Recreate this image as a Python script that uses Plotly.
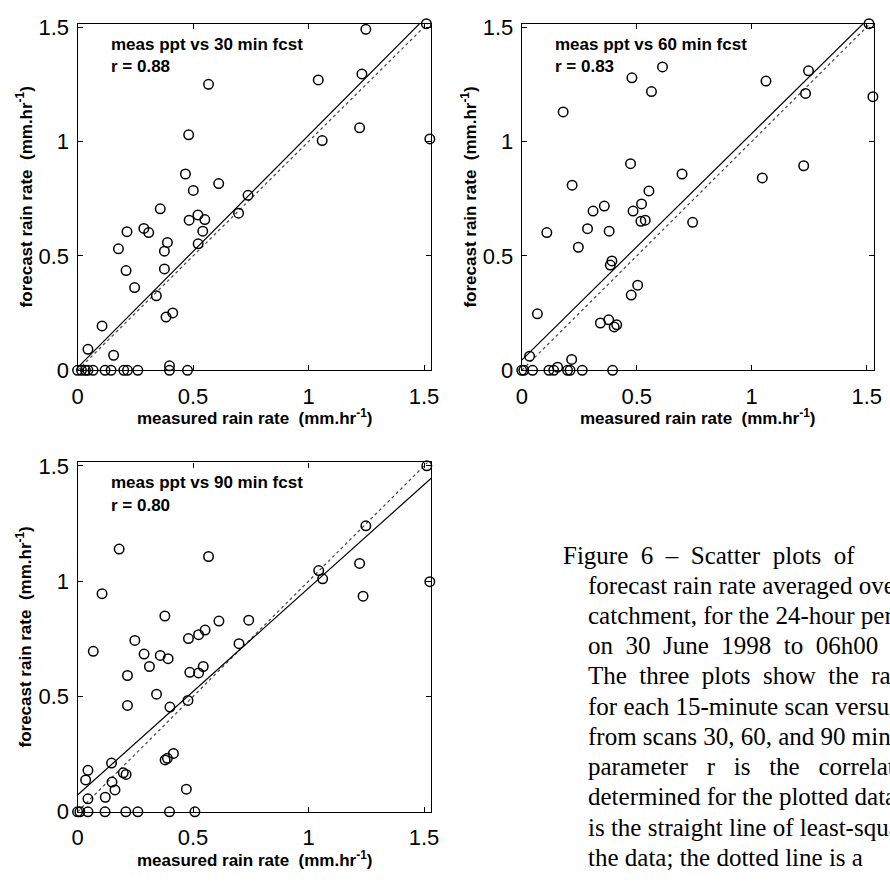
import numpy as np
import plotly.graph_objects as go

W, H = 890, 883

# ---------------- data ----------------
LEAD_MIN = [30, 60, 90]
R_VALUES = ["0.88", "0.83", "0.80"]

MEAS_30 = [1.248, 1.51, 0.567, 1.042, 1.231, 0.481, 1.221, 1.059, 1.525, 0.467,
           0.611, 0.501, 0.738, 0.358, 0.697, 0.521, 0.483, 0.551, 0.287, 0.308,
           0.214, 0.542, 0.177, 0.389, 0.376, 0.522, 0.21, 0.376, 0.247, 0.341,
           0.412, 0.383, 0.106, 0.045, 0.156, 0.398,
           0.0, 0.017, 0.034, 0.045, 0.067, 0.119, 0.145, 0.2, 0.216, 0.261, 0.398, 0.476]
FCST_30 = [1.49, 1.515, 1.25, 1.269, 1.295, 1.029, 1.06, 1.004, 1.011, 0.858,
           0.816, 0.786, 0.765, 0.706, 0.687, 0.679, 0.656, 0.659, 0.62, 0.602,
           0.606, 0.608, 0.531, 0.559, 0.521, 0.553, 0.436, 0.443, 0.362, 0.326,
           0.251, 0.233, 0.194, 0.092, 0.066, 0.02,
           0, 0, 0, 0, 0, 0, 0, 0, 0, 0, 0, 0]

MEAS_60 = [0.612, 0.479, 1.062, 1.247, 1.234, 0.564, 1.527, 1.51, 0.18, 0.473,
           1.226, 1.046, 0.697, 0.219, 0.553, 0.521, 0.359, 0.31, 0.484, 0.537,
           0.518, 0.743, 0.286, 0.38, 0.109, 0.246, 0.392, 0.385, 0.504, 0.476,
           0.068, 0.342, 0.378, 0.402, 0.413, 0.034, 0.217, 0.156,
           0.0, 0.009, 0.047, 0.118, 0.139, 0.199, 0.21, 0.263, 0.395]
FCST_60 = [1.326, 1.278, 1.264, 1.309, 1.21, 1.218, 1.196, 1.515, 1.129, 0.903,
           0.894, 0.841, 0.858, 0.809, 0.784, 0.727, 0.718, 0.696, 0.696, 0.656,
           0.651, 0.647, 0.619, 0.608, 0.602, 0.538, 0.478, 0.46, 0.372, 0.329,
           0.247, 0.207, 0.221, 0.19, 0.199, 0.062, 0.048, 0.014,
           0, 0, 0, 0, 0, 0, 0, 0, 0]

MEAS_90 = [1.512, 0.18, 0.567, 1.248, 1.044, 1.061, 1.221, 1.236, 1.525, 0.106,
           0.378, 0.612, 0.741, 0.552, 0.524, 0.48, 0.248, 0.699, 0.068, 0.288,
           0.358, 0.392, 0.311, 0.544, 0.486, 0.524, 0.216, 0.342, 0.216, 0.478,
           0.4, 0.415, 0.389, 0.379, 0.147, 0.045, 0.035, 0.198, 0.21, 0.149,
           0.162, 0.12, 0.045, 0.471,
           0.0, 0.01, 0.045, 0.119, 0.209, 0.261, 0.398, 0.508]
FCST_90 = [1.50, 1.139, 1.107, 1.24, 1.046, 1.01, 1.077, 0.935, 0.998, 0.946,
           0.849, 0.827, 0.831, 0.788, 0.768, 0.751, 0.743, 0.729, 0.696, 0.684,
           0.678, 0.664, 0.63, 0.63, 0.605, 0.602, 0.591, 0.51, 0.461, 0.483,
           0.454, 0.253, 0.232, 0.225, 0.211, 0.18, 0.138, 0.169, 0.162, 0.129,
           0.095, 0.063, 0.056, 0.098,
           0, 0, 0, 0, 0, 0, 0, 0]

# least-squares fit lines
FIT_INTERCEPT = [0.012, 0.045, 0.073]
FIT_SLOPE = [1.015, 0.99, 0.897]

X_RANGE = [0, 1.531]
Y_RANGE = [0, 1.515]
TICK_VALUES = [0, 0.5, 1, 1.5]
TICK_LABELS = ["0", "0.5", "1", "1.5"]

X_TITLE = "measured rain rate  (mm.hr<sup>-1</sup>)"
Y_TITLE = "forecast rain rate  (mm.hr<sup>-1</sup>)"

NB = "\u00a0"
EN = "\u2002"
CAPTION = [
    "Figure 6 \u2013 Scatter plots of".replace(" ", " " + NB),
    "forecast rain rate averaged over",
    "catchment, for the 24-hour period",
    "on 30 June 1998 to 06h00".replace(" ", " " + NB),
    "The three plots show the rain".replace(" ", " " + NB),
    "for each 15-minute scan versus",
    "from scans 30, 60, and 90 minutes",
    "parameter r is the correlation".replace(" ", " " + EN),
    "determined for the plotted data",
    "is the straight line of least-squares",
    "the data; the dotted line is a",
]

# ---------------- layout helpers ----------------
PANELS = [(72.7, 432.0, 15.0, 370.6), (524.0, 881.7, 15.0, 370.6), (72.7, 432.0, 465.0, 823.3)]


def fx(px):
    return px / W


def fy(py):
    return 1 - py / H


TICK_FONT = dict(family="Liberation Sans, Arial", size=22, color="black")
LABEL_FONT = dict(family="Liberation Sans, Arial", size=17, color="black", weight="bold")

meas = [MEAS_30, MEAS_60, MEAS_90]
fcst = [FCST_30, FCST_60, FCST_90]

fig = go.Figure()
annotations = []
layout_axes = {}

for i, (l, r, t, b) in enumerate(PANELS):
    k = "" if i == 0 else str(i + 1)
    xa, ya = "x" + k, "y" + k
    xline = np.array(X_RANGE)
    # 1:1 dotted line
    fig.add_trace(go.Scatter(x=xline, y=xline, mode="lines", xaxis=xa, yaxis=ya,
                             line=dict(color="#444", width=1.2, dash="dot"), showlegend=False,
                             hoverinfo="skip"))
    # least squares line
    fig.add_trace(go.Scatter(x=xline, y=FIT_INTERCEPT[i] + FIT_SLOPE[i] * xline, mode="lines",
                             xaxis=xa, yaxis=ya, line=dict(color="black", width=1.2),
                             showlegend=False, hoverinfo="skip"))
    # data points
    fig.add_trace(go.Scatter(x=meas[i], y=fcst[i], mode="markers", xaxis=xa, yaxis=ya,
                             marker=dict(symbol="circle-open", size=9.5, color="black",
                                         line=dict(width=1.5, color="black")),
                             cliponaxis=False, showlegend=False))

    common = dict(showline=True, linecolor="black", linewidth=1.2, mirror="ticks",
                  ticks="inside", ticklen=5, tickwidth=1, tickcolor="black",
                  tickvals=TICK_VALUES, ticktext=TICK_LABELS, tickfont=TICK_FONT,
                  showgrid=False, zeroline=False, fixedrange=True)
    layout_axes["xaxis" + k] = dict(common, domain=[fx(l), fx(r)], range=X_RANGE,
                                    anchor=ya, ticklabelstandoff=6)
    layout_axes["yaxis" + k] = dict(common, domain=[fy(b), fy(t)], range=Y_RANGE,
                                    anchor=xa, ticklabelstandoff=3)

    # panel text
    annotations.append(dict(text="meas ppt vs %d min fcst" % LEAD_MIN[i], x=fx(l + 32), y=fy(t + 21),
                            xref="paper", yref="paper", xanchor="left", yanchor="middle",
                            showarrow=False, font=LABEL_FONT))
    annotations.append(dict(text="r = %s" % R_VALUES[i], x=fx(l + 32), y=fy(t + 44),
                            xref="paper", yref="paper", xanchor="left", yanchor="middle",
                            showarrow=False, font=LABEL_FONT))
    # axis titles
    annotations.append(dict(text=X_TITLE, x=fx((l + r) / 2), y=fy(b + 48), xref="paper", yref="paper",
                            xanchor="center", yanchor="middle", showarrow=False, font=LABEL_FONT))
    annotations.append(dict(text=Y_TITLE, x=fx(l - 54), y=fy((t + b) / 2), xref="paper", yref="paper",
                            xanchor="center", yanchor="middle", textangle=-90, showarrow=False,
                            font=LABEL_FONT))

# caption text
CAP_FONT = dict(family="Liberation Serif, Times New Roman, serif", size=25, color="black")
for j, line in enumerate(CAPTION):
    left = 564 if j == 0 else 589
    annotations.append(dict(text=line, x=fx(left), y=fy(560 + 31 * j), xref="paper", yref="paper",
                            xanchor="left", yanchor="middle", showarrow=False, font=CAP_FONT))

fig.update_layout(width=W, height=H, margin=dict(l=0, r=0, t=0, b=0),
                  paper_bgcolor="white", plot_bgcolor="white",
                  annotations=annotations, **layout_axes)

fig.write_html("out.html", config=dict(displayModeBar=False))
